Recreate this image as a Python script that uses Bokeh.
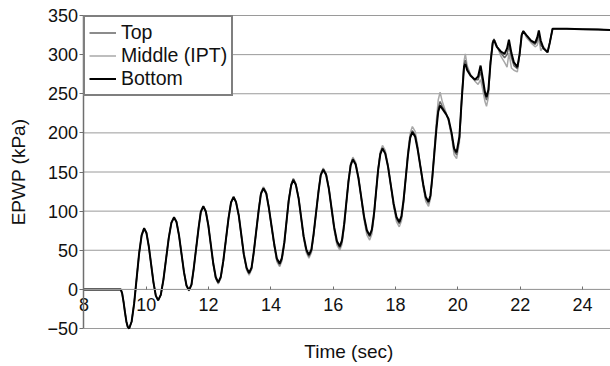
import math
from bokeh.plotting import figure
from bokeh.models import LinearAxis, FixedTicker, Legend, LegendItem, Range1d, Label
from bokeh.embed import file_html
from bokeh.resources import INLINE

# ---- data ----
time_s = [
    8.0, 9.18, 9.225, 9.27, 9.315, 9.36, 9.405, 9.45,
    9.53, 9.61, 9.69, 9.77, 9.85, 9.93,
    10.005, 10.08, 10.155, 10.23, 10.305, 10.38,
    10.465, 10.55, 10.635, 10.72, 10.805, 10.89,
    10.97, 11.05, 11.13, 11.21, 11.29, 11.37,
    11.45, 11.52, 11.60, 11.68, 11.75, 11.83,
    11.91, 11.99, 12.07, 12.15, 12.23, 12.31,
    12.39, 12.47, 12.555, 12.64, 12.72, 12.80,
    12.88, 12.97, 13.05, 13.13, 13.22, 13.30,
    13.38, 13.45, 13.53, 13.61, 13.68, 13.76,
    13.85, 13.93, 14.02, 14.11, 14.19, 14.28,
    14.35, 14.43, 14.50, 14.57, 14.65, 14.72,
    14.80, 14.89, 14.97, 15.05, 15.14, 15.22,
    15.30, 15.37, 15.45, 15.53, 15.60, 15.68,
    15.77, 15.86, 15.945, 16.03, 16.12, 16.21,
    16.28, 16.35, 16.42, 16.49, 16.56, 16.63,
    16.72, 16.81, 16.90, 16.99, 17.08, 17.17,
    17.24, 17.31, 17.375, 17.44, 17.51, 17.58,
    17.67, 17.76, 17.85, 17.94, 18.03, 18.12,
    18.19, 18.26, 18.33, 18.40, 18.47, 18.54,
    18.63, 18.71, 18.80, 18.89, 18.97, 19.06,
    19.12, 19.18, 19.245, 19.31, 19.37,
    19.43, 19.50, 19.62, 19.70, 19.80, 19.88, 19.96, 20.05, 20.12, 20.20,
    20.24, 20.30, 20.41, 20.55, 20.65, 20.73, 20.80, 20.87, 20.92, 20.98,
    21.05, 21.12, 21.16, 21.25, 21.38, 21.50, 21.58, 21.64, 21.72, 21.80,
    21.91, 21.98, 22.05, 22.10, 22.20, 22.35, 22.48, 22.55, 22.60, 22.66,
    22.75, 22.88, 22.95, 23.04, 23.5, 24.0, 24.5, 25.0,
]

top_kpa = [
    0, 0, -5, -16, -29, -41, -48, -50,
    -41, -18, 14, 46, 69, 78,
    72, 55, 32, 9, -8, -14,
    -7, 12.5, 39, 65.5, 85, 92,
    86, 69, 45.5, 22, 5, -1,
    6, 26, 52.5, 79, 99, 106,
    99.5, 82, 57, 32.5, 14.5, 8,
    15, 35.5, 63, 91, 111, 118,
    111.5, 94, 69, 44.5, 26.5, 20,
    27, 47.5, 75, 102.5, 123, 130,
    123.5, 105.5, 80.5, 56, 37.5, 31,
    38, 58.5, 86, 113.5, 134, 141,
    134.5, 116.5, 91.5, 67, 48.5, 42,
    49, 69.5, 98, 126, 147, 154,
    147.5, 129, 103.5, 78.5, 59.5, 53,
    60.5, 81.5, 110, 138.5, 159.5, 167,
    160.5, 142.5, 117, 92, 73.5, 67,
    74.5, 95.5, 124, 152.5, 173.5, 181,
    174.5, 157, 132.5, 108, 90.5, 84,
    91.5, 113.5, 143.5, 173, 195.5, 203,
    197, 180, 156.5, 133, 116, 110,
    118, 141.5, 175, 207, 231.5,
    240, 234, 225, 217, 198, 177, 172, 192, 240, 288,
    293, 283, 274, 268, 268, 278, 264, 248, 242, 252,
    291, 316, 320, 311, 302, 296, 300, 312, 296, 286,
    282, 299, 326, 330, 324, 317, 313, 318, 327, 312,
    308, 303, 315, 333, 333, 332.5, 332, 331.5,
]

middle_kpa = [
    0, 0, -5, -16, -29, -41, -48, -50,
    -41, -18, 14, 46.5, 70, 79,
    73, 55.5, 32.5, 9, -8, -14,
    -7, 12.5, 39.5, 66, 86, 93,
    87, 69.5, 45.5, 21.5, 4, -2,
    5, 25.5, 52.5, 79.5, 100, 107,
    100.5, 82.5, 57, 31.5, 13.5, 7,
    14, 34.5, 63, 91.5, 112, 119,
    112.5, 94, 68.5, 43, 24.5, 18,
    25, 45.5, 74.5, 103, 124, 131,
    124.5, 106, 80, 54, 35.5, 29,
    36, 57, 85.5, 114, 135, 142,
    135.5, 117, 91, 65, 46.5, 40,
    47, 68, 97.5, 127, 148, 155,
    148.5, 130, 102.5, 75.5, 56.5, 50,
    57.5, 79, 109.5, 139.5, 161, 169,
    162.5, 144.5, 116, 88.5, 69.5, 63,
    70.5, 92.5, 123.5, 154, 176, 184,
    177.5, 159, 132, 105, 86.5, 80,
    87.5, 110, 144, 177, 200, 208,
    202, 184, 157, 130, 112.5, 106,
    115.5, 143, 179, 215, 242,
    252, 240, 226, 215, 195, 172, 167, 188, 240, 292,
    301, 286, 274, 266, 262, 268, 255, 240, 234, 245,
    292, 316, 320, 312, 298, 290, 284, 302, 283, 280,
    278, 298, 326, 330, 322, 315, 310, 312, 322, 305,
    310, 303, 315, 333, 333, 332.5, 332, 331.5,
]

bottom_kpa = [
    0, 0, -5, -16, -29, -41, -48, -50,
    -41, -18, 14, 46, 69, 78,
    72, 55, 32, 9, -8, -14,
    -7, 12.5, 39, 65.5, 85, 92,
    86, 69, 45.5, 22, 5, -1,
    6, 26, 52.5, 79, 99, 106,
    99.5, 82, 57.5, 33, 15.5, 9,
    16, 36, 63.5, 91, 111, 118,
    111.5, 94, 69.5, 45, 27.5, 21,
    28, 48, 75, 102, 122, 129,
    122.5, 105, 81, 57, 39.5, 33,
    40, 60, 86.5, 113, 133, 140,
    133.5, 116, 92, 68, 50.5, 44,
    51, 71, 98.5, 126, 146, 153,
    146.5, 128.5, 104, 79.5, 61.5, 55,
    62.5, 83, 110.5, 138, 158.5, 166,
    159.5, 142, 117.5, 93, 75.5, 69,
    76.5, 97, 124.5, 152, 172.5, 180,
    173.5, 156.5, 133, 109.5, 92.5, 86,
    93.5, 115, 143.5, 172, 193.5, 201,
    195, 179, 156.5, 134, 118, 112,
    120, 143, 173.5, 204, 227,
    235, 231, 224, 218, 200, 180, 175, 195, 240, 285,
    288, 280, 273, 268, 272, 286, 270, 252, 246, 255,
    290, 315, 319, 310, 304, 301, 308, 319, 302, 290,
    284, 300, 325, 330, 325, 318, 315, 322, 331, 318,
    308, 303, 315, 333, 333, 332.5, 332, 331.5,
]

x_ticks = [8, 10, 12, 14, 16, 18, 20, 22, 24]
y_ticks = [-50, 0, 50, 100, 150, 200, 250, 300, 350]

FONT = "Liberation Sans"
TXT = "#111111"
GRID = "#9a9a9a"
AXIS = "#6f6f6f"

X0 = x_ticks[0]          # the y axis sits at t = 8
X_END = time_s[-1]
Y_LO, Y_HI = y_ticks[0], y_ticks[-1]

# the frame fills the whole page; ranges are padded so that the axes,
# their labels and titles all lie inside it (nothing gets clipped)
p = figure(width=610, height=366, output_backend="svg", toolbar_location=None,
           x_range=Range1d(5.32, 24.9), y_range=Range1d(-98.56, 369.17),
           x_axis_location=None, y_axis_location=None,
           min_border_left=0, min_border_right=0, min_border_top=0, min_border_bottom=0)
p.outline_line_color = None
p.background_fill_color = "white"
p.border_fill_color = "white"
p.grid.visible = False

# horizontal gridlines, only to the right of the y axis
p.segment(x0=[X0] * len(y_ticks), y0=y_ticks, x1=[X_END] * len(y_ticks), y1=y_ticks,
          line_color=GRID, line_width=1)

# y axis at t = 8
yax = LinearAxis(fixed_location=X0, ticker=FixedTicker(ticks=y_ticks), bounds=(Y_LO, Y_HI))
yax.major_label_text_font = FONT
yax.major_label_text_font_size = "18px"
yax.major_label_text_color = TXT
yax.major_label_standoff = 2
yax.major_tick_out = 4
yax.major_tick_in = 0
yax.minor_tick_out = 0
yax.minor_tick_in = 0
yax.axis_line_color = AXIS
yax.axis_line_width = 1.5
yax.major_tick_line_color = AXIS
p.add_layout(yax, "left")

# x axis crossing at y = 0
xax = LinearAxis(fixed_location=0, ticker=FixedTicker(ticks=x_ticks), bounds=(X0, X_END))
xax.major_label_text_font = FONT
xax.major_label_text_font_size = "18px"
xax.major_label_text_color = TXT
xax.major_label_standoff = 9
xax.major_tick_out = 0
xax.major_tick_in = 3
xax.minor_tick_out = 0
xax.minor_tick_in = 0
xax.axis_line_color = GRID
xax.major_tick_line_color = AXIS
p.add_layout(xax, "below")

# axis titles
p.add_layout(Label(x=(X0 + X_END) / 2, y=Y_LO, y_offset=-23, text="Time (sec)",
                   text_align="center", text_baseline="middle",
                   text_font=FONT, text_font_size="19px", text_color=TXT))
p.add_layout(Label(x=X0, y=(Y_LO + Y_HI) / 2, x_offset=-65, angle=math.pi / 2,
                   text="EPWP (kPa)", text_align="center", text_baseline="middle",
                   text_font=FONT, text_font_size="19px", text_color=TXT))

r_mid = p.line(time_s, middle_kpa, line_color="#a8a8a8", line_width=1.5)
r_top = p.line(time_s, top_kpa, line_color="#666666", line_width=1.5)
r_bot = p.line(time_s, bottom_kpa, line_color="black", line_width=2)

legend = Legend(items=[LegendItem(label="Top", renderers=[r_top]),
                       LegendItem(label="Middle (IPT)", renderers=[r_mid]),
                       LegendItem(label="Bottom", renderers=[r_bot])],
                location=(83, 270), margin=0, padding=4, spacing=0,
                label_height=21, glyph_height=21, glyph_width=27, label_standoff=5,
                border_line_color="black", border_line_width=2,
                background_fill_color="white", background_fill_alpha=1,
                label_text_font=FONT, label_text_font_size="19.5px",
                label_text_color=TXT)
p.add_layout(legend)

open("out.html", "w").write(file_html(p, INLINE))
